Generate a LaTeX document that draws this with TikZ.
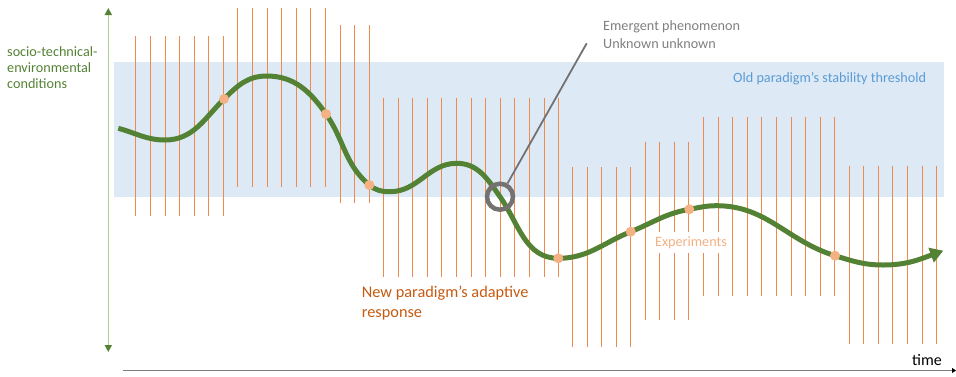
\documentclass[tikz,border=0pt]{standalone}
\usepackage{fontspec}
\setmainfont{Carlito}
\usetikzlibrary{arrows.meta}

\definecolor{curvegreen}{RGB}{84,130,53}
\definecolor{axisgreen}{RGB}{169,209,142}
\definecolor{bandblue}{RGB}{221,234,246}
\definecolor{textblue}{RGB}{91,155,213}
\definecolor{lineorange}{RGB}{239,138,74}
\definecolor{dotpeach}{RGB}{244,177,131}
\definecolor{darkorange}{RGB}{197,90,17}
\definecolor{textgray}{RGB}{127,127,127}
\definecolor{ringgray}{RGB}{118,113,113}

\begin{document}
\begin{tikzpicture}[x=1pt, y=-1pt, font=\fontsize{14.2}{16}\selectfont,
  probe/.style={draw=lineorange, line width=0.75pt},
  dotnode/.style={circle, fill=dotpeach, inner sep=0pt, minimum size=10pt}]

	\useasboundingbox (0,0) rectangle (956,376);

	% old paradigm's band
	\fill[bandblue] (114,62) rectangle (944,197);
	\node[anchor=west, inner sep=0pt, textblue] (oldlabel) at (733,79) {Old paradigm’s stability threshold};

	% vertical probes: first x / count-1 / top / bottom
	\foreach \xs/\n/\ytop/\ybot in {135.7/6/36/216, 237.7/6/7.5/187, 340/2/25/203,
		383.3/12/97.7/276.7, 572.3/4/167.3/346.7, 645/3/141.7/320,
		703.3/9/116.7/295.7, 849/6/165.7/344.3}{
		\foreach \i in {0,...,\n}{
			\draw[probe] (\xs+\i*14.6, \ytop) -- (\xs+\i*14.6, \ybot);
		}
	}

	\node[text=dotpeach, fill=white, inner xsep=3pt, inner ysep=0pt, minimum height=21.6pt] (explabel) at (691,242.5) {Experiments};

	% axes
	\coordinate (ytop) at (108.3,8);
	\coordinate (ybot) at (108.3,352);
	\draw[axisgreen, line width=1.6pt, {Triangle[length=7pt,width=7pt,color=curvegreen]}-{Triangle[length=7pt,width=7pt,color=curvegreen]}] (ytop) -- (ybot);
	\node[anchor=west, align=left, inner sep=0pt, curvegreen] (ylabel) at (7,68) {socio-technical-\\environmental\\conditions};

	\coordinate (tstart) at (123,370.5);
	\coordinate (tend) at (956,370.5);
	\draw[textgray, line width=1pt, -{Triangle[length=4pt,width=5pt,color=black]}] (tstart) -- (tend);
	\node[font=\fontsize{16}{18}\selectfont, inner sep=0pt] (tlabel) at (927,360) {time};

	% the path of conditions
	\coordinate (c0) at (118.3,128.3);
	\coordinate (c1) at (165,140);
	\coordinate (c2) at (224,99);
	\coordinate (c3) at (266.7,76);
	\coordinate (c4) at (326,114);
	\coordinate (c5) at (369.3,185);
	\coordinate (c6) at (390,191.7);
	\coordinate (c7) at (456.7,163.3);
	\coordinate (c8) at (500,196.7);
	\coordinate (c9) at (558.3,258.3);
	\coordinate (c10) at (630.7,231.7);
	\coordinate (c11) at (689.3,209.3);
	\coordinate (c12) at (716.7,205.7);
	\coordinate (c13) at (835,255.7);
	\coordinate (c14) at (883.3,265);
	\coordinate (c15) at (943.3,250.7);
	\draw[curvegreen, line width=5pt, -{Triangle[length=13pt,width=15pt]}]
		(c0) to[out=-15,in=180] (c1) to[out=0,in=-135] (c2) to[out=45,in=180] (c3)
		to[out=0,in=125] (c4) to[out=-55,in=140] (c5) to[out=-40,in=180] (c6)
		to[out=0,in=180] (c7) to[out=0,in=125] (c8) to[out=-55,in=180] (c9)
		to[out=0,in=-158] (c10) to[out=22,in=-170] (c11) to[out=10,in=180] (c12)
		to[out=0,in=163] (c13) to[out=-17,in=180] (c14) to[out=0,in=-160] (c15);

	\node[dotnode] (d1) at (c2) {};
	\node[dotnode] (d2) at (c4) {};
	\node[dotnode] (d3) at (c5) {};
	\node[dotnode] (d4) at (c9) {};
	\node[dotnode] (d5) at (c10) {};
	\node[dotnode] (d6) at (c11) {};
	\node[dotnode] (d7) at (c13) {};

	% emergence
	\node[circle, draw=ringgray, line width=4.5pt, minimum size=26pt, inner sep=0pt] (ring) at (c8) {};
	\coordinate (lead) at (586.7,43.3);
	\draw[ringgray, line width=1.8pt] (lead) -- (ring);
	\node[anchor=west, align=left, inner sep=0pt, textgray, font=\fontsize{14.2}{17.3}\selectfont] (emlabel) at (603,34.7) {Emergent phenomenon\\Unknown unknown};

	\node[anchor=west, align=left, inner sep=0pt, darkorange, font=\fontsize{16.3}{20}\selectfont] (newlabel) at (361.7,303.3) {New paradigm’s adaptive\\response};

\end{tikzpicture}
\end{document}
